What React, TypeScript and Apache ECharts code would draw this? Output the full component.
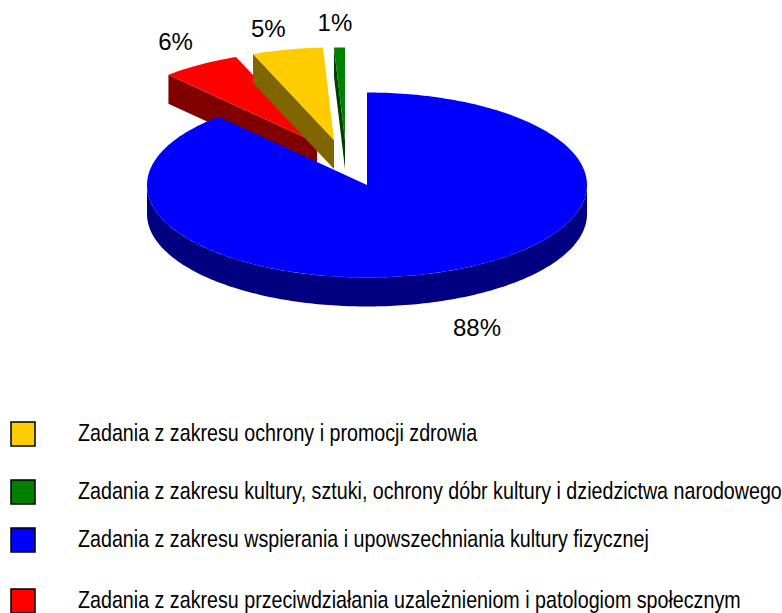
import React, { useEffect, useRef } from 'react';
import * as echarts from 'echarts';

// ---- data ----
const categories = [
  'Zadania z zakresu wspierania i upowszechniania kultury fizycznej',
  'Zadania z zakresu przeciwdziałania uzależnieniom i patologiom społecznym',
  'Zadania z zakresu ochrony i promocji zdrowia',
  'Zadania z zakresu kultury, sztuki, ochrony dóbr kultury i dziedzictwa narodowego',
];
const values = [88.2, 5.8, 5.2, 0.8];
const legendOrder = [2, 3, 0, 1];

// ---- style ----
const topColors = ['#0000FF', '#FF0000', '#FFCC00', '#008000'];
const wallColors = ['#000080', '#800000', '#806600', '#004000'];
const explode = [[0, 0], [-50, -42], [-33, -45], [-22, -45]];
const labelNudge = [[8, 3], [8, -1], [-6, 4], [-3, 1]];
const CX = 367, CY = 185, RX = 220, RY = 92.5, DEPTH = 29;
const LABEL_K = 1.28;
const legendRowY = [434, 492, 540, 601];

const rad = (d: number) => (d * Math.PI) / 180;

function pt(deg: number, ox: number, oy: number, dz: number, r = 1): number[] {
  return [CX + ox + RX * r * Math.sin(rad(deg)), CY + oy - RY * r * Math.cos(rad(deg)) + dz];
}

function arcPts(a0: number, a1: number, ox: number, oy: number, dz: number): number[][] {
  const out: number[][] = [];
  const n = Math.max(2, Math.ceil(Math.abs(a1 - a0) / 1));
  for (let i = 0; i <= n; i++) out.push(pt(a0 + ((a1 - a0) * i) / n, ox, oy, dz));
  return out;
}

function buildSlice(idx: number, total: number) {
  let start = 0;
  for (let i = 0; i < idx; i++) start += (values[i] / total) * 360;
  const end = start + (values[idx] / total) * 360;
  const [ox, oy] = explode[idx];
  const apex = [CX + ox, CY + oy];
  const apexB = [CX + ox, CY + oy + DEPTH];
  const children: any[] = [];
  const wall = wallColors[idx];
  const w0 = Math.max(start, 90), w1 = Math.min(end, 270);
  if (w1 > w0) {
    const top = arcPts(w0, w1, ox, oy, 0);
    const bot = arcPts(w0, w1, ox, oy, DEPTH).reverse();
    children.push({ type: 'polygon', shape: { points: top.concat(bot) }, style: { fill: wall } });
  }
  if (Math.sin(rad(start)) < -1e-6) {
    const p = pt(start, ox, oy, 0), pb = pt(start, ox, oy, DEPTH);
    children.push({ type: 'polygon', shape: { points: [apex, p, pb, apexB] }, style: { fill: wall } });
  }
  if (Math.sin(rad(end)) > 1e-6) {
    const p = pt(end, ox, oy, 0), pb = pt(end, ox, oy, DEPTH);
    children.push({ type: 'polygon', shape: { points: [apex, p, pb, apexB] }, style: { fill: wall } });
  }
  children.push({
    type: 'polygon',
    shape: { points: [apex].concat(arcPts(start, end, ox, oy, 0)) },
    style: { fill: topColors[idx] },
  });
  const mid = (start + end) / 2;
  const lp = pt(mid, ox, oy, 0, LABEL_K);
  const front = Math.cos(rad(mid)) < 0 ? DEPTH : 0;
  children.push({
    type: 'text',
    x: lp[0] + labelNudge[idx][0],
    y: lp[1] + front + labelNudge[idx][1],
    style: {
      text: Math.round((values[idx] / total) * 100) + '%',
      fill: '#000',
      fontSize: 24,
      fontFamily: '"Liberation Sans", Arial, sans-serif',
      align: 'center',
      verticalAlign: 'middle',
    },
  });
  return { type: 'group', children };
}

export default function App() {
  const ref = useRef<HTMLDivElement>(null);
  useEffect(() => {
    if (!ref.current) return;
    const chart = echarts.init(ref.current, undefined, { renderer: 'svg' });
    const total = values.reduce((a, b) => a + b, 0);
    const drawOrder = [1, 2, 3, 0];
    const series = drawOrder.map((idx) => ({
      type: 'custom',
      name: categories[idx],
      coordinateSystem: 'none',
      silent: true,
      z: idx === 0 ? 3 : 2,
      itemStyle: { color: topColors[idx] },
      data: [values[idx]],
      renderItem: () => buildSlice(idx, total),
    }));
    const legendGraphics: any[] = [];
    legendOrder.forEach((ci, i) => {
      const cy = legendRowY[i];
      legendGraphics.push({
        type: 'rect',
        shape: { x: 11, y: cy - 12, width: 24, height: 24 },
        style: { fill: topColors[ci], stroke: '#000', lineWidth: 1.5 },
        silent: true,
      });
      legendGraphics.push({
        type: 'text',
        x: 78,
        y: cy - 1,
        scaleX: 0.82,
        silent: true,
        style: {
          text: categories[ci],
          fill: '#000',
          fontSize: 24,
          fontFamily: '"Liberation Sans", Arial, sans-serif',
          align: 'left',
          verticalAlign: 'middle',
        },
      });
    });
    chart.setOption({
      animation: false,
      backgroundColor: '#fff',
      graphic: legendGraphics,
      series,
    });
    return () => chart.dispose();
  }, []);
  return (
    <div
      ref={ref}
      style={{ position: 'fixed', left: 0, top: 0, width: 782, height: 613 }}
    />
  );
}
